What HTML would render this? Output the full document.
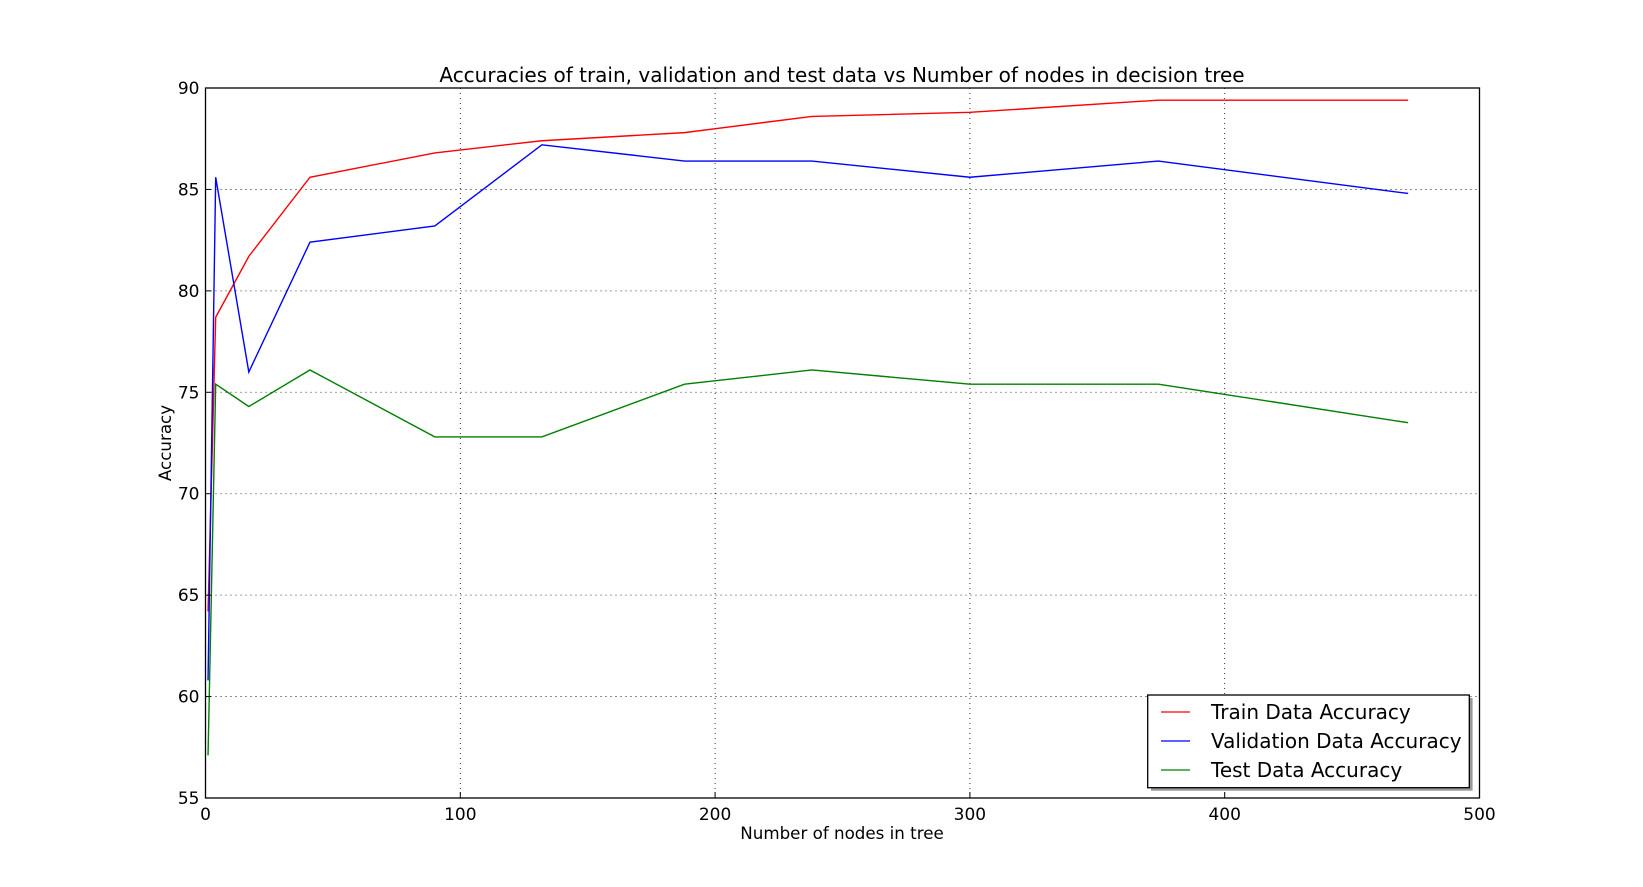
<!DOCTYPE html>
<html><head><meta charset="utf-8"><style>
html,body{margin:0;padding:0;background:#fff;}
svg{display:block;font-family:"DejaVu Sans","Liberation Sans",sans-serif;}
</style></head><body>
<svg id="chart" width="1643" height="887" xmlns="http://www.w3.org/2000/svg">
<rect width="1643" height="887" fill="#fff"/>
<g id="grid"></g>
<g id="series"></g>
<rect x="205.5" y="88" width="1274" height="710" fill="none" stroke="#000" stroke-width="1.3"/>
<g id="ticks"></g>
<text x="842" y="82" font-size="20" text-anchor="middle">Accuracies of train, validation and test data vs Number of nodes in decision tree</text>
<text x="842" y="839" font-size="16.7" text-anchor="middle">Number of nodes in tree</text>
<text transform="translate(171,443) rotate(-90)" font-size="16.7" text-anchor="middle">Accuracy</text>
<g>
<rect x="1151" y="698" width="321.6" height="92.7" fill="#999"/>
<rect x="1147.7" y="695" width="321.6" height="92.7" fill="#fff" stroke="#000" stroke-width="1.3"/>
<line x1="1161" y1="712" x2="1190" y2="712" stroke="#f00" stroke-width="1.3"/>
<text x="1211" y="719" font-size="20">Train Data Accuracy</text>
<line x1="1161" y1="741" x2="1190" y2="741" stroke="#00f" stroke-width="1.3"/>
<text x="1211" y="748" font-size="20">Validation Data Accuracy</text>
<line x1="1161" y1="770" x2="1190" y2="770" stroke="#008000" stroke-width="1.3"/>
<text x="1211" y="777" font-size="20">Test Data Accuracy</text>
</g>
</svg>
<script>
const nodes = [1, 4, 17, 41, 90, 132, 188, 238, 300, 374, 472];
const trainAcc = [64.2, 78.7, 81.7, 85.6, 86.8, 87.4, 87.8, 88.6, 88.8, 89.4, 89.4];
const valAcc = [60.8, 85.6, 76.0, 82.4, 83.2, 87.2, 86.4, 86.4, 85.6, 86.4, 84.8];
const testAcc = [57.1, 75.4, 74.3, 76.1, 72.8, 72.8, 75.4, 76.1, 75.4, 75.4, 73.5];
const xTicks = [0, 100, 200, 300, 400, 500];
const yTicks = [55, 60, 65, 70, 75, 80, 85, 90];

const L=205.5,R=1479.5,T=88,B=798;
const xs=v=>L+(v-0)/500*(R-L);
const ys=v=>B-(v-55)/35*(B-T);
const NS="http://www.w3.org/2000/svg";
function mk(tag,attrs,parent){const e=document.createElementNS(NS,tag);for(const k in attrs)e.setAttribute(k,attrs[k]);parent.appendChild(e);return e;}
const grid=document.getElementById('grid'),ticks=document.getElementById('ticks'),series=document.getElementById('series');
xTicks.forEach(t=>{
  const x=xs(t);
  if(t>0&&t<500){const g=mk('line',{x1:x,y1:T,x2:x,y2:B,stroke:'#000','stroke-width':0.8,'stroke-dasharray':'1,4'},grid);
  
  }
  const tk=mk('line',{x1:x,y1:B,x2:x,y2:B-6,stroke:'#000'},ticks);
  
  
  const lb=mk('text',{x:x,y:B+22,'font-size':17,'text-anchor':'middle'},ticks);
  lb.textContent=t;
  
  
});
yTicks.forEach(t=>{
  const y=ys(t);
  if(t>55&&t<90){const g=mk('line',{x1:L,y1:y,x2:R,y2:y,stroke:'#000','stroke-width':0.8,'stroke-dasharray':'1,4'},grid);
  
  }
  const tk=mk('line',{x1:L,y1:y,x2:L+6,y2:y,stroke:'#000'},ticks);
  
  
  const lb=mk('text',{x:L-6,y:y+6,'font-size':17,'text-anchor':'end'},ticks);
  lb.textContent=t;
  
  
});
[[trainAcc,'#f00','train-line'],[valAcc,'#00f','validation-line'],[testAcc,'#008000','test-line']].forEach(([d,c,n])=>{
  const p=mk('polyline',{points:d.map((v,i)=>xs(nodes[i])+','+ys(v)).join(' '),fill:'none',stroke:c,'stroke-width':1.4},series);
  
  
});
</script>
</body></html>
